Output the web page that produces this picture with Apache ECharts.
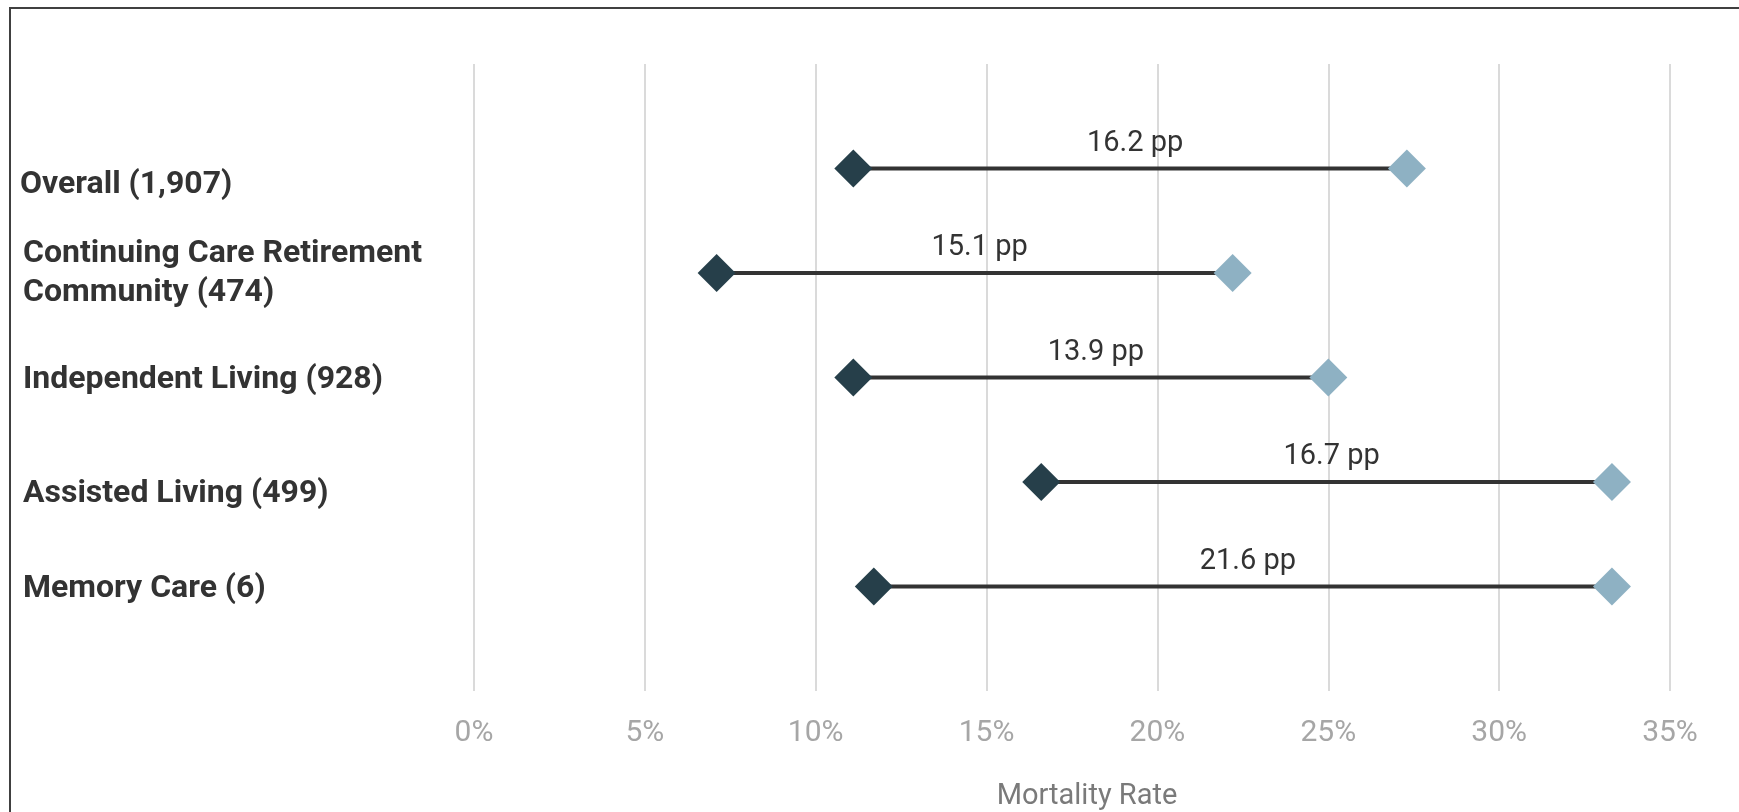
<!DOCTYPE html>
<html>
<head>
<meta charset="utf-8">
<script src="https://cdn.jsdelivr.net/npm/echarts@6/dist/echarts.min.js"></script>
<style>
  html, body { margin: 0; padding: 0; background: #fff; }
  #chart { width: 1739px; height: 812px; }
</style>
</head>
<body>
<div id="chart"></div>
<script>
// Facility types with resident counts
const categories = [
  'Overall (1,907)',
  'Continuing Care Retirement\nCommunity (474)',
  'Independent Living (928)',
  'Assisted Living (499)',
  'Memory Care (6)'
];
// Row positions on the vertical scale (top to bottom)
const rowPositions = [1, 2, 3, 4, 5];
// Mortality rates (%) at the two ends of each dumbbell
const lowRates = [11.1, 7.1, 11.1, 16.6, 11.7];
const highRates = [27.3, 22.2, 25.0, 33.3, 33.3];
// Horizontal axis ticks
const xTickValues = [0, 5, 10, 15, 20, 25, 30, 35];
const xTickLabels = ['0%', '5%', '10%', '15%', '20%', '25%', '30%', '35%'];

const FONT = 'Roboto, "Noto Sans", sans-serif';
const DARK = '#263f4a';
const LIGHT = '#8eb1c3';

// Per-row nudges for the category labels
const labelStyles = {
  r0: { padding: [33, 0, 0, 0] },
  r1: { padding: [0, 0, 0, 3] },
  r2: { padding: [4, 0, 0, 3] },
  r3: { padding: [24, 0, 0, 3] },
  r4: { padding: [4, 0, 0, 3] }
};
Object.keys(labelStyles).forEach(k => Object.assign(labelStyles[k], {
  fontFamily: FONT, fontSize: 32, fontWeight: 'bold', color: '#333333', lineHeight: 39
}));

const chart = echarts.init(document.getElementById('chart'), null, { renderer: 'canvas' });

chart.setOption({
  animation: false,
  backgroundColor: '#ffffff',
  graphic: {
    elements: [{
      type: 'rect',
      silent: true,
      z: -10,
      shape: { x: 10, y: 8, width: 1800, height: 900 },
      style: { fill: 'none', stroke: '#404040', lineWidth: 2 }
    }]
  },
  grid: { left: 474, right: 69, top: 64, bottom: 121, outerBoundsMode: 'none' },
  xAxis: {
    type: 'value',
    min: xTickValues[0],
    max: xTickValues[xTickValues.length - 1],
    interval: 5,
    axisLine: { show: false },
    axisTick: { show: false },
    splitLine: { show: true, lineStyle: { color: '#dadada', width: 2 } },
    axisLabel: {
      margin: 27,
      color: '#a6a6a6',
      fontFamily: FONT,
      fontSize: 30,
      formatter: v => xTickLabels[xTickValues.indexOf(v)]
    },
    name: 'Mortality Rate',
    nameLocation: 'middle',
    nameGap: 91,
    nameTextStyle: { color: '#7a7a7a', fontFamily: FONT, fontSize: 29, padding: [0, 0, 0, 30] }
  },
  yAxis: {
    type: 'value',
    min: 0,
    max: 6,
    interval: 1,
    inverse: true,
    axisLine: { show: false },
    axisTick: { show: false },
    splitLine: { show: false },
    axisLabel: {
      align: 'left',
      margin: 454,
      fontFamily: FONT,
      fontSize: 32,
      fontWeight: 'bold',
      color: '#333333',
      lineHeight: 39,
      formatter: v => {
        const i = rowPositions.indexOf(v);
        if (i < 0) return '';
        return categories[i].split('\n').map(s => '{r' + i + '|' + s + '}').join('\n');
      },
      rich: labelStyles
    }
  },
  series: [
    {
      // Connector between the two rates, labelled with the gap in percentage points
      type: 'custom',
      z: 2,
      data: rowPositions.map((y, i) => [lowRates[i], highRates[i], y]),
      encode: { x: [0, 1], y: 2 },
      renderItem: (params, api) => {
        const y = api.value(2);
        const a = api.coord([api.value(0), y]);
        const b = api.coord([api.value(1), y]);
        const gap = (api.value(1) - api.value(0)).toFixed(1) + ' pp';
        return {
          type: 'group',
          children: [
            {
              type: 'line',
              shape: { x1: a[0], y1: a[1], x2: b[0], y2: b[1] },
              style: { stroke: '#333333', lineWidth: 4 }
            },
            {
              type: 'text',
              x: (a[0] + b[0]) / 2 + 5,
              y: a[1] - 25,
              style: {
                text: gap,
                fill: '#333333',
                font: '29px ' + FONT,
                align: 'center',
                verticalAlign: 'middle'
              }
            }
          ]
        };
      }
    },
    {
      name: 'Lower rate',
      type: 'scatter',
      z: 3,
      symbol: 'diamond',
      symbolSize: [38, 38],
      itemStyle: { color: DARK, opacity: 1 },
      data: rowPositions.map((y, i) => [lowRates[i], y])
    },
    {
      name: 'Higher rate',
      type: 'scatter',
      z: 3,
      symbol: 'diamond',
      symbolSize: [38, 38],
      itemStyle: { color: LIGHT, opacity: 1 },
      data: rowPositions.map((y, i) => [highRates[i], y])
    }
  ]
});
</script>
</body>
</html>
